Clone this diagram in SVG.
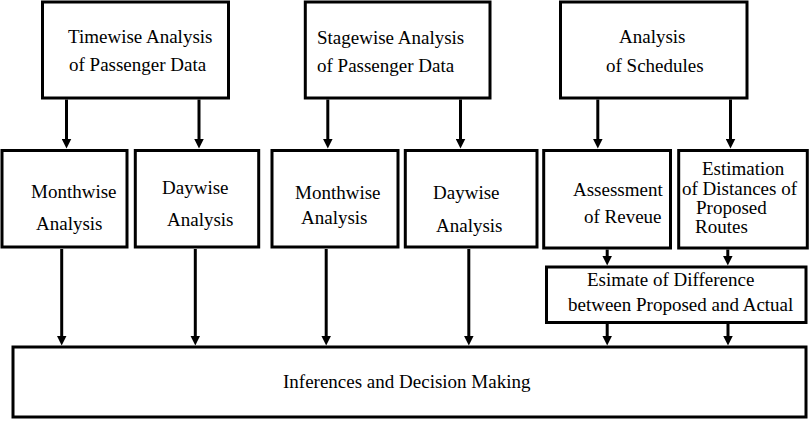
<svg xmlns="http://www.w3.org/2000/svg" width="810" height="422" viewBox="0 0 810 422">
<style>
.box{fill:#fff;stroke:#000;stroke-width:3}
.t{font-family:"Liberation Serif","Times New Roman",serif;font-size:19px;fill:#000}
.c{stroke:#000;stroke-width:3;fill:none}
</style>
<defs>
<marker id="ah" markerUnits="userSpaceOnUse" viewBox="0 0 10 10" refX="1" refY="5" markerWidth="10" markerHeight="10" orient="auto">
<path d="M0,0 L10,5 L0,10 z" fill="#000"/>
</marker>
</defs>
<rect width="810" height="422" fill="#fff"/>
<g id="connectors">
<path class="c" marker-end="url(#ah)" d="M66.5,99.5 V139.5"/>
<path class="c" marker-end="url(#ah)" d="M199,99.5 V139.5"/>
<path class="c" marker-end="url(#ah)" d="M327.8,99.5 V139.5"/>
<path class="c" marker-end="url(#ah)" d="M460.5,99.5 V139.5"/>
<path class="c" marker-end="url(#ah)" d="M597.8,99.5 V139.5"/>
<path class="c" marker-end="url(#ah)" d="M730.5,99.5 V139.5"/>
<path class="c" marker-end="url(#ah)" d="M61.7,249 V336.5"/>
<path class="c" marker-end="url(#ah)" d="M195.3,249 V336.5"/>
<path class="c" marker-end="url(#ah)" d="M326.2,249 V336.5"/>
<path class="c" marker-end="url(#ah)" d="M468.8,249 V336.5"/>
<path class="c" marker-end="url(#ah)" d="M607.2,249.5 V256.5"/>
<path class="c" marker-end="url(#ah)" d="M727.8,249.5 V256.5"/>
<path class="c" marker-end="url(#ah)" d="M607.2,324 V336.5"/>
<path class="c" marker-end="url(#ah)" d="M728,324 V336.5"/>
</g>
<g id="timewise">
<rect class="box" x="42.5" y="2" width="186" height="96"/>
<text class="t" x="68" y="43">Timewise Analysis</text>
<text class="t" x="69" y="71">of Passenger Data</text>
</g>
<g id="stagewise">
<rect class="box" x="305.3" y="2" width="184.7" height="96"/>
<text class="t" x="317" y="44">Stagewise Analysis</text>
<text class="t" x="317" y="72">of Passenger Data</text>
</g>
<g id="schedules">
<rect class="box" x="560.5" y="2" width="186.5" height="96"/>
<text class="t" x="619" y="43">Analysis</text>
<text class="t" x="606" y="72">of Schedules</text>
</g>
<g id="monthwise1">
<rect class="box" x="2" y="150.5" width="125" height="96.5"/>
<text class="t" x="31" y="198">Monthwise</text>
<text class="t" x="36" y="230">Analysis</text>
</g>
<g id="daywise1">
<rect class="box" x="135.3" y="150.5" width="123.4" height="96.5"/>
<text class="t" x="162" y="194">Daywise</text>
<text class="t" x="167" y="226">Analysis</text>
</g>
<g id="monthwise2">
<rect class="box" x="272" y="150.5" width="126" height="96.5"/>
<text class="t" x="295" y="199">Monthwise</text>
<text class="t" x="301" y="224">Analysis</text>
</g>
<g id="daywise2">
<rect class="box" x="405.3" y="150.5" width="131.7" height="96.5"/>
<text class="t" x="433" y="199">Daywise</text>
<text class="t" x="436" y="232">Analysis</text>
</g>
<g id="revenue">
<rect class="box" x="543.7" y="150.5" width="126.8" height="97.5"/>
<text class="t" x="573" y="196">Assessment</text>
<text class="t" x="584" y="223">of Reveue</text>
</g>
<g id="distances">
<rect class="box" x="678.7" y="150.5" width="128.6" height="97.5"/>
<text class="t" x="702" y="175">Estimation</text>
<text class="t" x="682" y="195">of Distances of</text>
<text class="t" x="696" y="214">Proposed</text>
<text class="t" x="695" y="233">Routes</text>
</g>
<g id="difference">
<rect class="box" x="546.5" y="267" width="259.5" height="55.5"/>
<text class="t" x="587" y="286">Esimate of Difference</text>
<text class="t" x="568" y="311">between Proposed and Actual</text>
</g>
<g id="inferences">
<rect class="box" x="13" y="347" width="793" height="70"/>
<text class="t" x="283" y="388">Inferences and Decision Making</text>
</g>
</svg>
